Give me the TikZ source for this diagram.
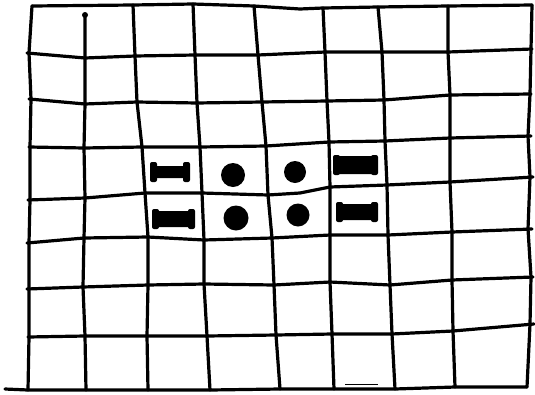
\documentclass[tikz,border=0pt]{standalone}
\usetikzlibrary{calc}

% filled bone-like mark: left x, right x, centre y, half bar height
\newcommand{\bonemark}[4]{%
  \fill[rounded corners=1pt] (#1+3,#3-#4) rectangle (#2-3,#3+#4);
  \fill[rounded corners=2pt] (#1,#3-10) rectangle (#1+7,#3+10);
  \fill[rounded corners=2pt] (#2-7,#3-10) rectangle (#2,#3+10);
}

\begin{document}
\begin{tikzpicture}[x=1pt, y=-1pt,
  ink/.style={line width=3.2pt, line cap=round, line join=round},
  dot/.style={circle, fill=black, inner sep=0pt, minimum size=#1}]
\useasboundingbox (0,0) rectangle (535,394);
% horizontal lines
\draw[ink] (32,6) -- (133,5) -- (193,4) -- (254,6) -- (300,9) -- (323,8) -- (378,7) -- (448,6) -- (532,5);
\draw[ink] (27,53) -- (85,58) -- (135,56) -- (195,55) -- (258,55) -- (325,52) -- (382,52) -- (448,52) -- (532,49);
\draw[ink] (29,99) -- (85,104) -- (137,102) -- (197,103) -- (262,102) -- (327,101) -- (384,100) -- (450,95) -- (531,94);
\draw[ink] (29,147) -- (84,148) -- (142,147) -- (200,147) -- (266,146) -- (329,142) -- (385,141) -- (450,138) -- (531,136);
\draw[ink] (28,200) -- (85,198) -- (145,193) -- (202,193) -- (268,195) -- (300,193) -- (330,187) -- (387,185) -- (450,182) -- (533,177);
\draw[ink] (27,243) -- (84,238) -- (148,237) -- (204,240) -- (272,238) -- (330,235) -- (388,235) -- (452,232) -- (532,229);
\draw[ink] (27,289) -- (83,287) -- (148,285) -- (204,284) -- (274,285) -- (330,282) -- (390,285) -- (452,280) -- (533,277);
\draw[ink] (28,337) -- (85,336) -- (147,336) -- (207,336) -- (276,335) -- (332,334) -- (392,334) -- (453,331) -- (534,324);
\draw[ink] (5,389) -- (28,390) -- (86,390) -- (148,390) -- (210,390) -- (280,389) -- (334,389) -- (395,389) -- (455,387) -- (527,387);
% vertical lines
\draw[ink] (32,6) -- (29,53) -- (31,99) -- (30,147) -- (30,200) -- (29,243) -- (29,289) -- (29,337) -- (28,390);
\draw[ink] (85,15) -- (85,58) -- (85,104) -- (84,148) -- (85,198) -- (84,238) -- (83,287) -- (85,336) -- (86,390);
\draw[ink] (133,5) -- (135,56) -- (137,102) -- (142,147) -- (145,193) -- (148,237) -- (148,285) -- (147,336) -- (148,390);
\draw[ink] (193,4) -- (195,55) -- (197,103) -- (200,147) -- (202,193) -- (204,240) -- (204,284) -- (207,336) -- (210,390);
\draw[ink] (254,6) -- (258,55) -- (262,102) -- (266,146) -- (268,195) -- (272,238) -- (274,285) -- (276,335) -- (280,389);
\draw[ink] (323,8) -- (325,52) -- (327,101) -- (329,142) -- (330,187) -- (330,235) -- (330,282) -- (332,334) -- (334,389);
\draw[ink] (378,7) -- (382,52) -- (384,100) -- (385,141) -- (387,185) -- (388,235) -- (390,285) -- (392,334) -- (395,389);
\draw[ink] (448,6) -- (448,52) -- (450,95) -- (450,138) -- (450,182) -- (452,232) -- (452,280) -- (453,331) -- (455,387);
\draw[ink] (532,5) -- (531,49) -- (530,94) -- (528,136) -- (530,177) -- (528,229) -- (531,277) -- (530,324) -- (527,387);
\fill (85,15) circle (3pt);
\draw[line width=0.6pt] (345,384) -- (378,384);
% marks in the middle
\bonemark{150}{190}{172}{6}
\bonemark{152}{195}{219}{8}
\bonemark{333}{378}{165}{9}
\bonemark{336}{378}{212}{8}
\node[dot=24pt] (r1c2) at (233,175) {};
\node[dot=22pt] (r1c3) at (295,172) {};
\node[dot=25pt] (r2c2) at (236,218) {};
\node[dot=23pt] (r2c3) at (298,215) {};
\end{tikzpicture}
\end{document}
